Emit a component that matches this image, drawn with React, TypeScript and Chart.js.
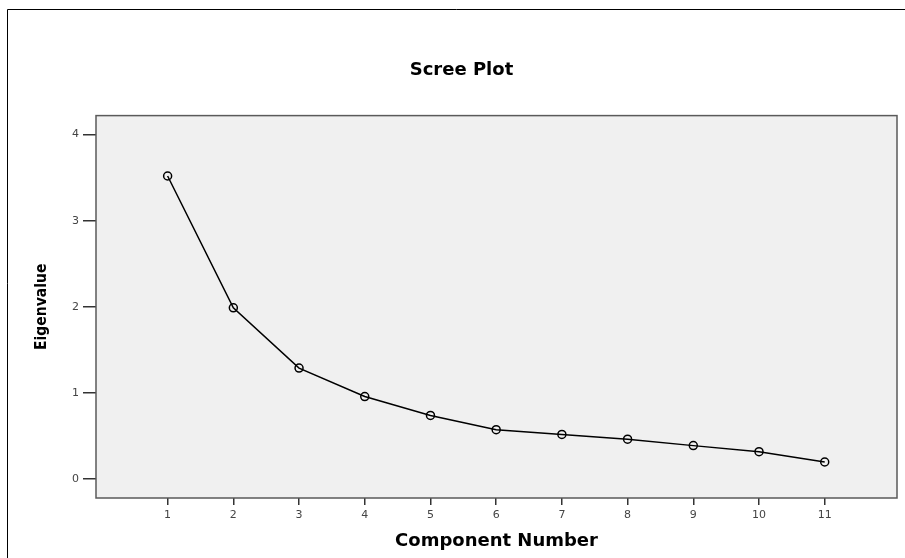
import React, { useEffect, useRef } from "react";
import { Chart, registerables } from "chart.js";

Chart.register(...registerables);

const components = [1, 2, 3, 4, 5, 6, 7, 8, 9, 10, 11];
const eigenvalues = [3.52, 1.99, 1.29, 0.96, 0.74, 0.575, 0.52, 0.465, 0.39, 0.32, 0.2];
const xTickValues = [1, 2, 3, 4, 5, 6, 7, 8, 9, 10, 11];
const yTickValues = [0, 1, 2, 3, 4];

const chartTitle = "Scree Plot";
const xTitle = "Component Number";
const yTitle = "Eigenvalue";

const framePlugin = {
  id: "frame",
  beforeDatasetsDraw(chart: any) {
    const { ctx, chartArea: a } = chart;
    ctx.save();
    ctx.fillStyle = "#f0f0f0";
    ctx.fillRect(a.left, a.top, a.right - a.left, a.bottom - a.top);
    ctx.restore();
  },
  afterDraw(chart: any) {
    const { ctx, chartArea: a } = chart;
    ctx.save();
    ctx.strokeStyle = "#5a5a5a";
    ctx.lineWidth = 1.5;
    ctx.strokeRect(a.left, a.top, a.right - a.left, a.bottom - a.top);
    ctx.strokeStyle = "#000";
    ctx.lineWidth = 1;
    ctx.beginPath();
    ctx.moveTo(7.5, chart.height);
    ctx.lineTo(7.5, 9.5);
    ctx.lineTo(chart.width, 9.5);
    ctx.stroke();
    ctx.restore();
  },
};

export default function App() {
  const canvasRef = useRef<HTMLCanvasElement | null>(null);

  useEffect(() => {
    if (!canvasRef.current) return;
    const chart = new Chart(canvasRef.current, {
      type: "line",
      data: {
        datasets: [
          {
            data: components.map((c, i) => ({ x: c, y: eigenvalues[i] })),
            borderColor: "#000",
            borderWidth: 1.5,
            pointRadius: 4,
            pointBorderWidth: 1.5,
            pointBorderColor: "#000",
            pointBackgroundColor: "rgba(0,0,0,0)",
            tension: 0,
            fill: false,
          },
        ],
      },
      options: {
        responsive: false,
        animation: false,
        devicePixelRatio: 1,
        layout: { padding: { left: 26, right: 8, top: 0, bottom: 0 } },
        plugins: {
          legend: { display: false },
          tooltip: { enabled: false },
          title: {
            display: true,
            text: chartTitle,
            color: "#000",
            font: { family: "DejaVu Sans", size: 18, weight: "bold" },
            padding: { top: 60, bottom: 34 },
          },
        },
        scales: {
          x: {
            type: "linear",
            min: -0.09,
            max: 12.1,
            afterBuildTicks: (s: any) => {
              s.ticks = xTickValues.map((v) => ({ value: v }));
            },
            afterFit: (s: any) => {
              s.height = 60;
            },
            border: { display: false },
            grid: {
              display: true,
              drawOnChartArea: false,
              drawTicks: true,
              tickLength: 7,
              color: "#333",
              lineWidth: 1.5,
            },
            ticks: {
              color: "#444",
              font: { family: "DejaVu Sans", size: 11 },
              padding: 4,
              maxRotation: 0,
              autoSkip: false,
            },
            title: {
              display: true,
              text: xTitle,
              color: "#000",
              font: { family: "DejaVu Sans", size: 18, weight: "bold" },
              padding: { top: 0, bottom: 6 },
            },
          },
          y: {
            type: "linear",
            min: -0.218,
            max: 4.221,
            afterBuildTicks: (s: any) => {
              s.ticks = yTickValues.map((v) => ({ value: v }));
            },
            afterFit: (s: any) => {
              s.width = 70;
            },
            border: { display: false },
            grid: {
              display: true,
              drawOnChartArea: false,
              drawTicks: true,
              tickLength: 13,
              color: "#333",
              lineWidth: 1.5,
            },
            ticks: {
              color: "#444",
              font: { family: "DejaVu Sans", size: 11 },
              padding: 4,
            },
            title: {
              display: true,
              text: yTitle,
              color: "#000",
              font: { family: "'DejaVu Sans Condensed'", size: 15.5, weight: "bold" },
              padding: { top: 7, bottom: 0 },
            },
          },
        },
      },
      plugins: [framePlugin],
    });
    return () => chart.destroy();
  }, []);

  return (
    <div style={{ position: "absolute", left: 0, top: 0, width: 905, height: 558, background: "#fff" }}>
      <canvas ref={canvasRef} width={905} height={558} style={{ width: 905, height: 558, display: "block" }} />
    </div>
  );
}
